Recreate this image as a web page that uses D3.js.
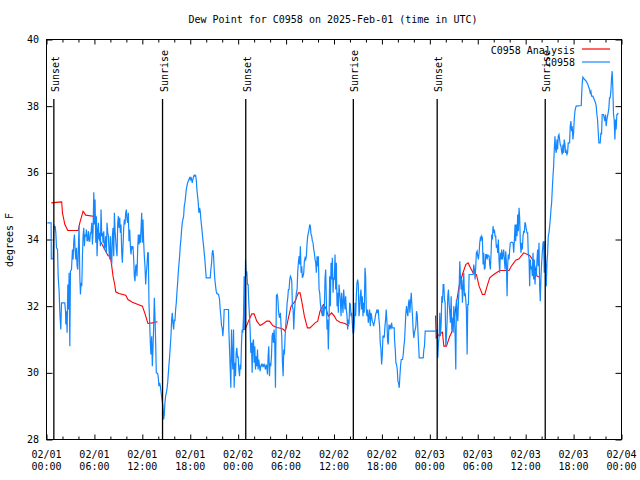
<!DOCTYPE html>
<html><head><meta charset="utf-8">
<script src="https://cdn.jsdelivr.net/npm/d3@7"></script>
<style>
body{margin:0;background:#fff}
text{font-family:"DejaVu Sans Mono","Liberation Mono",monospace;font-size:10px;fill:#000}
</style>
</head><body>
<svg id="chart" width="640" height="480"></svg>
<script>
const title = "Dew Point for C0958 on 2025-Feb-01 (time in UTC)";
const yLabel = "degrees F";
const yTicks = [28, 30, 32, 34, 36, 38, 40];
const xTickHours = [0, 6, 12, 18, 24, 30, 36, 42, 48, 54, 60, 66, 72];
const xTickDates = ["02/01","02/01","02/01","02/01","02/02","02/02","02/02","02/02","02/03","02/03","02/03","02/03","02/04"];
const xTickTimes = ["00:00","06:00","12:00","18:00","00:00","06:00","12:00","18:00","00:00","06:00","12:00","18:00","00:00"];
const sunLabels = ["Sunset","Sunrise","Sunset","Sunrise","Sunset","Sunrise"];
const sunHours = [0.92, 14.53, 24.95, 38.42, 48.92, 62.45];
const seriesNames = ["C0958 Analysis", "C0958"];

// hours since 2025-02-01 00:00 UTC, dew point (F)
const analysisNight1 = [[0.6,35.1],[1.5,35.12],[1.9,35.13],[2.0,34.8],[2.3,34.45],[2.67,34.27],[3.96,34.27],[4.17,34.5],[4.58,34.85],[4.92,34.73],[5.83,34.7],[6.17,34.55],[6.33,34.3],[6.67,33.98],[7.08,33.8],[7.3,33.7],[7.7,33.52],[8.0,33.48],[8.17,33.2],[8.33,32.9],[8.54,32.65],[8.67,32.43],[9.08,32.38],[9.92,32.33],[10.2,32.2],[10.75,32.12],[11.46,32.05],[12.0,32.0],[12.3,31.8],[12.7,31.48],[13.25,31.5],[13.9,31.53]];
const analysisNight2 = [[24.67,32.0],[24.7,31.3],[24.88,31.3],[25.29,31.55],[25.71,31.77],[26.0,31.77],[26.33,31.55],[26.75,31.42],[27.17,31.48],[27.58,31.55],[27.92,31.55],[28.33,31.42],[28.83,31.36],[29.46,31.33],[29.79,31.28],[29.88,31.25],[30.08,31.4],[30.29,31.65],[30.63,32.0],[31.13,32.15],[31.54,32.4],[31.75,32.4],[31.96,32.15],[32.29,31.7],[32.67,31.35],[33.0,31.35],[33.63,31.5],[33.96,31.55],[34.25,31.85],[34.67,32.05],[34.96,31.95],[35.29,31.7],[35.71,31.8],[36.04,31.7],[36.33,31.58],[36.75,31.52],[37.38,31.48],[37.88,31.4]];
const analysisNight3 = [[48.71,31.72],[48.79,31.05],[49.17,31.15],[49.58,31.22],[49.75,30.8],[50.08,30.8],[50.5,31.1],[50.71,31.2],[51.0,31.5],[51.33,32.1],[51.67,32.6],[52.08,32.95],[52.5,33.25],[52.79,33.3],[53.08,33.15],[53.42,33.0],[53.83,32.95],[54.17,32.6],[54.58,32.35],[54.88,32.35],[55.17,32.6],[55.5,32.85],[56.0,32.95],[56.75,33.07],[57.92,33.07],[58.2,33.2],[58.75,33.38],[59.17,33.42],[59.75,33.6],[60.5,33.52],[61.0,33.35],[61.42,32.9],[61.75,32.87]];

const observed = [[0.1,34.5],[0.58,34.5],[0.6,33.42],[0.83,33.42],[0.92,34.45],[1.0,34.3],[1.08,34.4],[1.17,34.2],[1.25,33.75],[1.38,33.7],[1.46,32.9],[1.58,32.45],[1.67,31.8],[1.79,31.3],[1.88,32.1],[2.29,32.1],[2.38,31.85],[2.42,31.45],[2.5,31.85],[2.58,31.2],[2.67,32.65],[2.75,31.9],[2.83,33.0],[2.92,30.8],[3.0,33.05],[3.13,33.1],[3.25,33.7],[3.33,33.4],[3.42,33.95],[3.5,34.15],[3.58,33.7],[3.67,33.4],[3.75,33.75],[3.83,33.2],[3.92,33.1],[4.0,33.85],[4.08,34.4],[4.17,32.9],[4.25,32.35],[4.33,32.7],[4.42,32.6],[4.5,33.5],[4.58,34.1],[4.67,34.35],[4.75,33.8],[4.83,34.15],[4.92,34.1],[5.0,34.3],[5.08,33.95],[5.17,34.0],[5.25,34.25],[5.33,33.95],[5.42,33.95],[5.5,34.2],[5.58,34.2],[5.67,34.5],[5.75,33.85],[5.83,34.25],[5.92,35.42],[6.0,34.45],[6.08,35.2],[6.17,33.9],[6.25,34.7],[6.33,33.5],[6.42,34.1],[6.5,34.5],[6.58,34.0],[6.67,34.2],[6.75,33.8],[6.83,34.9],[6.92,34.1],[7.0,34.2],[7.08,33.9],[7.17,34.25],[7.25,33.7],[7.33,33.8],[7.42,34.1],[7.5,33.6],[7.58,34.5],[7.67,34.2],[7.75,34.1],[7.83,33.65],[7.92,33.4],[8.0,34.1],[8.08,33.55],[8.17,33.25],[8.25,34.1],[8.33,34.35],[8.42,33.5],[8.5,34.8],[8.58,34.3],[8.67,33.95],[8.75,33.7],[8.83,33.5],[8.92,34.5],[9.0,34.7],[9.08,34.35],[9.17,34.65],[9.25,34.2],[9.33,34.45],[9.42,33.6],[9.5,33.3],[9.58,33.8],[9.67,34.35],[9.75,34.6],[9.83,34.45],[9.92,34.8],[10.0,34.9],[10.08,34.6],[10.17,34.5],[10.25,34.8],[10.33,33.95],[10.42,34.3],[10.5,33.8],[10.58,33.55],[10.67,33.8],[10.75,33.75],[10.83,33.8],[10.92,33.4],[11.0,32.9],[11.08,32.75],[11.17,33.2],[11.25,33.25],[11.33,32.9],[11.42,33.75],[11.5,34.15],[11.58,33.85],[11.67,34.15],[11.75,33.9],[11.83,34.3],[11.92,34.8],[12.0,33.9],[12.08,34.6],[12.17,33.9],[12.25,33.5],[12.33,33.2],[12.42,32.65],[12.5,33.0],[12.58,33.2],[12.67,33.6],[12.75,33.6],[12.83,32.1],[12.92,31.5],[13.0,30.9],[13.08,30.55],[13.17,31.1],[13.25,30.2],[13.33,30.7],[13.42,31.4],[13.5,32.25],[13.58,31.7],[13.67,30.9],[13.75,30.0],[13.92,29.98],[14.0,29.85],[14.08,29.6],[14.17,29.7],
[14.25,29.6],[14.46,29.2],[14.58,29.0],[14.67,28.6],[14.75,28.75],[14.83,29.1],[14.92,29.3],[15.08,29.5],[15.17,29.7],[15.29,30.1],[15.42,30.5],[15.5,30.8],[15.58,31.1],[15.67,31.6],[15.75,31.8],[15.83,31.5],[15.92,31.3],[16.0,31.6],[16.08,31.55],[16.17,31.9],[16.25,32.1],[16.33,32.4],[16.42,32.7],[16.5,33.0],[16.58,33.25],[16.67,33.5],[16.75,33.8],[16.83,34.0],[16.92,34.3],[17.0,34.5],[17.08,34.6],[17.17,34.7],[17.25,35.0],[17.33,35.1],[17.42,35.3],[17.5,35.5],[17.58,35.6],[17.67,35.7],[17.75,35.75],[17.83,35.8],[17.92,35.85],[18.0,35.8],[18.08,35.88],[18.17,35.8],[18.25,35.7],[18.33,35.8],[18.42,35.9],[18.5,35.93],[18.58,35.9],[18.67,35.92],[18.75,35.8],[18.83,35.5],[18.92,35.3],[19.0,35.1],[19.08,34.8],[19.17,34.95],[19.25,34.85],[19.33,34.6],[19.42,34.4],[19.5,34.2],[19.58,34.0],[19.67,33.8],[19.75,33.6],[19.83,33.4],[19.92,33.1],[20.0,32.85],[20.5,32.85],[20.58,33.1],[20.67,33.3],[20.75,33.6],[20.83,33.68],[20.92,33.5],[21.0,33.1],[21.08,32.8],[21.17,32.6],[21.25,32.45],[21.33,32.38],[21.54,32.35],[21.67,32.2],[21.75,31.9],[21.83,31.7],[21.92,31.4],[22.0,31.35],[22.08,31.1],[22.17,31.4],[22.25,31.9],[22.79,31.9],[22.83,31.3],[22.92,30.7],[23.0,30.15],[23.08,29.55],[23.17,31.3],[23.25,30.5],[23.33,30.1],[23.42,31.3],[23.5,29.55],[23.58,30.3],[23.67,29.9],[23.75,30.6],[23.83,30.75],[23.92,30.45],[24.0,30.5],[24.08,30.1],[24.17,29.9],[24.25,30.25],[24.33,30.1],[24.42,30.9],[24.5,31.3],[24.58,31.2],[24.67,31.7],[24.75,32.9],[24.83,31.3],[24.92,33.4],[25.0,32.9],[25.08,33.05],[25.17,32.65],[25.25,32.65],[25.33,32.1],[25.42,31.7],[25.5,31.3],[25.58,30.6],[25.67,30.9],[25.75,30.0],[25.83,30.9],[25.92,31.0],[26.0,30.3],[26.08,30.8],[26.17,30.1],[26.25,30.5],[26.33,30.2],[26.42,30.7],[26.5,30.1],[26.58,30.4],[26.67,30.2],[26.75,30.05],[26.83,30.2],[26.92,30.25],[27.0,30.2],[27.08,30.25],[27.17,30.2],[27.25,30.25],[27.33,30.2],[27.42,30.1],[27.5,30.25],[27.58,30.2],[27.67,29.95],[27.75,30.5],[27.83,30.8],[27.92,29.9],[28.0,30.3],[28.08,30.2],[28.17,30.5],[28.25,31.1],[28.33,31.2],[28.42,30.9],[28.5,31.3],[28.58,30.9],[28.67,29.55],
[28.71,30.6],[28.79,32.32],[28.88,32.35],[28.96,32.25],[29.04,31.9],[29.13,31.7],[29.21,31.65],[29.29,31.8],[29.38,31.35],[29.46,31.1],[29.54,30.35],[29.63,29.9],[29.71,30.7],[29.79,30.55],[29.88,31.1],[29.96,31.45],[30.04,31.7],[30.13,32.1],[30.21,32.25],[30.29,32.5],[30.38,32.5],[30.46,32.8],[30.54,32.9],[30.63,32.85],[30.71,32.75],[30.79,32.0],[30.88,31.9],[30.96,31.3],[31.04,31.8],[31.13,32.1],[31.21,32.2],[31.29,32.4],[31.38,32.5],[31.46,33.05],[31.54,33.3],[31.63,33.5],[31.71,33.25],[31.79,33.8],[31.88,33.0],[31.96,33.2],[32.04,32.85],[32.13,32.9],[32.21,33.0],[32.29,33.35],[32.38,33.45],[32.46,33.4],[32.54,33.5],[32.63,33.9],[32.71,34.1],[32.79,34.2],[32.88,34.3],[32.96,34.45],[33.04,34.4],[33.13,34.15],[33.21,34.1],[33.29,33.95],[33.38,33.9],[33.46,33.7],[33.54,33.6],[33.63,33.4],[33.71,33.3],[33.79,33.0],[33.88,33.5],[33.96,33.2],[34.04,33.5],[34.13,32.5],[34.21,32.4],[34.29,32.1],[34.38,31.9],[34.46,31.8],[34.54,31.7],[34.63,32.0],[34.71,31.7],[34.79,31.9],[34.88,32.85],[34.96,33.1],[35.04,32.2],[35.13,31.3],[35.21,31.6],[35.29,30.7],[35.38,31.6],[35.46,32.9],[35.54,32.0],[35.63,33.3],[35.71,32.8],[35.79,33.45],[35.88,32.4],[35.96,32.85],[36.04,32.8],[36.13,33.55],[36.21,32.5],[36.29,33.3],[36.38,32.0],[36.46,32.4],[36.54,31.8],[36.63,32.65],[36.71,32.4],[36.79,32.2],[36.88,31.7],[36.96,32.4],[37.04,32.1],[37.13,31.8],[37.21,32.5],[37.29,32.2],[37.38,31.9],[37.46,32.3],[37.54,31.9],[37.63,31.7],[37.71,31.3],[37.79,31.6],[37.88,31.45],[37.96,32.1],[38.04,32.05],[38.13,31.7],[38.21,31.8],[38.29,31.5],[38.38,31.2],[38.46,31.2],[38.54,31.45],[38.63,32.1],[38.71,31.7],[38.79,32.3],[38.88,32.7],[38.96,32.8],[39.04,32.65],[39.13,31.7],[39.21,31.9],[39.29,32.3],[39.38,32.5],[39.46,31.9],[39.54,32.3],[39.63,31.7],[39.71,32.1],[39.79,31.8],[39.88,33.15],[39.96,32.9],[40.04,31.9],[40.13,31.7],[40.21,31.9],[40.29,31.5],[40.38,31.7],[40.46,31.9],[40.54,31.4],[40.63,31.8],[40.71,31.7],[40.79,31.55],[40.88,31.5],[40.96,31.4],[41.04,31.5],[41.13,31.6],[41.21,31.75],[41.29,31.8],[41.38,31.9],[41.46,31.8],[41.54,31.9],[41.63,31.6],[41.71,31.4],[41.79,30.9],[41.88,30.7],[41.96,30.25],[42.04,30.5],[42.13,31.1],[42.21,31.1],[42.29,31.05],[42.38,31.4],[42.46,31.6],[42.54,31.9],[42.63,31.5],[42.71,30.95],[42.79,30.85],[42.88,31.45],[42.96,31.3],[43.04,31.4],[43.13,31.35],[43.21,31.5],[43.29,31.35],[43.42,31.35],[43.54,31.35],
[43.58,31.0],[43.67,30.7],[43.75,30.3],[43.83,30.25],[43.92,30.1],[44.0,29.75],[44.08,29.7],[44.17,29.55],[44.25,29.9],[44.33,30.2],[44.42,30.4],[44.58,30.4],[44.67,30.55],[44.75,30.8],[44.83,30.95],[44.92,31.4],[45.0,31.8],[45.08,32.0],[45.17,31.8],[45.25,31.7],[45.33,32.1],[45.42,32.2],[45.5,31.8],[45.58,32.1],[45.67,32.4],[45.75,32.05],[45.83,31.7],[45.92,31.25],[46.0,31.05],[46.08,31.2],[46.17,31.3],[46.25,31.4],[46.33,31.85],[46.42,31.75],[46.5,31.3],[46.58,30.9],[46.67,30.45],[47.17,30.45],[47.25,30.7],[47.33,30.8],[47.42,31.25],[48.83,31.25],[48.92,31.3],[49.0,30.45],[49.08,30.9],[49.17,31.1],[49.25,31.8],[49.33,31.1],[49.42,31.5],[49.5,32.3],[49.58,32.1],[49.67,32.65],[49.75,32.65],[49.83,32.2],[49.92,32.1],[50.0,30.8],[50.08,31.1],[50.17,31.6],[50.25,32.3],[50.33,32.5],[50.42,32.05],[50.5,31.8],[50.58,31.5],[50.67,32.3],[50.75,31.3],[50.83,31.65],[50.92,31.2],[51.0,32.0],[51.08,31.75],[51.17,31.05],[51.25,30.1],[51.33,32.2],[51.42,31.9],[51.5,31.55],[51.58,32.1],[51.67,32.55],[51.75,33.35],[51.83,32.9],[51.92,32.5],[52.0,32.8],[52.08,32.1],[52.17,32.6],[52.25,33.0],[52.33,32.3],[52.42,32.4],[52.5,32.2],[52.58,31.9],[52.67,30.55],[52.75,32.05],[52.83,32.05],[52.92,32.95],[53.42,32.95],[53.5,33.25],[53.58,33.1],[53.67,32.8],[53.75,33.2],[53.83,33.6],[53.92,33.65],[54.0,33.5],[54.08,33.4],[54.17,33.6],[54.25,33.9],[54.33,34.05],[54.42,34.0],[54.5,34.1],[54.58,34.05],[54.67,33.25],[54.75,33.6],[54.83,33.1],[54.92,33.15],[55.0,33.55],[55.08,33.55],[55.17,33.4],[55.25,33.55],[55.33,33.5],[55.42,33.5],[55.5,33.25],[55.58,33.1],[55.67,33.6],[55.75,34.15],[55.83,34.0],[55.92,34.4],[56.0,34.2],[56.08,34.3],[56.17,34.1],[56.25,34.1],[56.33,33.75],[56.42,33.85],[56.5,33.6],[56.58,34.0],[56.67,33.35],[56.75,33.0],[56.83,33.6],[56.92,33.4],[57.0,33.7],[57.08,33.4],[57.17,33.55],[57.25,33.7],[57.33,33.4],[57.42,33.1],[57.5,33.65],[57.58,33.35],[57.67,32.3],[57.75,33.25],[57.83,33.55],[57.92,33.4],
[58.0,33.7],[58.08,33.9],[58.25,33.92],[58.42,33.9],[58.5,33.6],[58.58,33.95],[58.67,34.45],[58.75,33.95],[58.83,34.45],[58.92,34.1],[59.0,34.75],[59.08,34.25],[59.17,34.95],[59.25,34.65],[59.33,33.9],[59.42,33.6],[59.5,33.9],[59.58,33.7],[59.67,34.1],[59.75,34.25],[59.83,34.2],[59.92,34.52],[60.0,34.45],[60.08,34.3],[60.17,34.2],[60.25,34.2],[60.33,33.55],[60.42,33.45],[60.5,32.6],[60.58,33.4],[60.67,33.1],[60.75,33.2],[60.83,32.9],[60.92,33.6],[61.0,32.8],[61.08,33.4],[61.17,32.65],[61.25,33.05],[61.33,32.9],[61.42,33.4],[61.5,33.7],[61.58,33.2],[61.67,33.9],[61.75,32.6],[61.83,32.15],[61.92,32.9],[62.0,33.3],[62.08,33.6],[62.17,33.9],[62.25,33.95],[62.33,33.0],[62.42,33.95],[62.5,33.35],[62.58,32.6],[62.67,33.3],[62.75,33.6],[62.83,34.1],[62.92,34.2],
[63.08,34.6],[63.17,34.9],[63.25,35.1],[63.33,35.5],[63.42,35.9],[63.5,36.2],[63.58,36.7],[63.67,37.1],[63.75,36.7],[63.83,36.6],[63.92,37.0],[64.0,36.7],[64.08,37.1],[64.17,37.15],[64.25,37.0],[64.33,36.85],[64.42,36.8],[64.5,36.65],[64.58,36.55],[64.67,36.85],[64.75,36.6],[64.83,37.0],[64.92,36.85],[65.0,36.6],[65.08,36.65],[65.17,36.55],[65.25,36.6],[65.33,36.9],[65.5,36.9],[65.58,37.4],[65.67,37.55],[65.75,37.25],[65.83,37.4],[65.92,37.0],[66.0,37.2],[66.08,37.6],[66.17,37.85],[66.25,37.95],[66.33,38.0],[66.96,38.02],[67.0,38.3],[67.08,38.7],[67.17,38.87],[67.38,38.8],[67.58,38.75],[67.79,38.65],[67.92,38.55],[68.0,38.5],[68.08,38.4],[68.17,38.45],[68.25,38.3],[68.42,38.3],[68.5,38.25],[68.58,38.2],[68.67,38.15],[68.75,38.1],[68.83,38.0],[68.92,37.75],[69.0,37.6],[69.08,37.25],[69.17,36.9],[69.33,36.9],[69.42,37.2],[69.5,37.15],[69.58,37.75],[69.75,37.75],[69.83,37.65],[69.92,37.55],[70.0,37.75],[70.08,37.4],[70.17,37.6],[70.25,37.7],[70.33,37.8],[70.42,37.95],[70.5,38.25],[70.58,38.25],[70.67,38.45],[70.75,38.82],[70.83,39.05],[70.92,38.5],[71.0,37.75],[71.08,37.6],[71.17,37.0],[71.25,37.6],[71.33,37.3],[71.42,37.75],[71.5,37.75],[71.58,37.8]];

const svg = d3.select("#chart");
const pL = 46.5, pR = 621.5, pT = 39.5, pB = 439.5;
const x = d3.scaleLinear().domain([0, 72]).range([pL, pR]);
const y = d3.scaleLinear().domain([28, 40]).range([pB, pT]);
const RED = "#ff0000", BLUE = "#1487ff";

// title
svg.append("text").attr("x", 333).attr("y", 23).attr("text-anchor", "middle").text(title);

// y label
svg.append("text").attr("transform", "translate(13,240) rotate(-90)")
  .attr("text-anchor", "middle").text(yLabel);

// axes (ticks point inward)
const minorHours = d3.range(0, 73, 2).filter(h => h % 6 !== 0);
function xTicks(g, size, vals, dir) {
  g.call(dir(x).tickValues(vals).tickSize(-size).tickFormat(""))
   .call(s => s.select(".domain").remove())
   .selectAll("line").attr("stroke", "#000");
}
svg.append("g").attr("transform", `translate(0,${pB})`).call(g => xTicks(g, 5, xTickHours, d3.axisBottom));
svg.append("g").attr("transform", `translate(0,${pB})`).call(g => xTicks(g, 3, minorHours, d3.axisBottom));
svg.append("g").attr("transform", `translate(0,${pT})`).call(g => xTicks(g, 5, xTickHours, d3.axisTop));
svg.append("g").attr("transform", `translate(0,${pT})`).call(g => xTicks(g, 3, minorHours, d3.axisTop));
svg.append("g").attr("transform", `translate(${pL},0)`)
  .call(d3.axisLeft(y).tickValues(yTicks).tickSize(-6).tickFormat(""))
  .call(s => s.select(".domain").remove()).selectAll("line").attr("stroke", "#000");
svg.append("g").attr("transform", `translate(${pR},0)`)
  .call(d3.axisRight(y).tickValues(yTicks).tickSize(-6).tickFormat(""))
  .call(s => s.select(".domain").remove()).selectAll("line").attr("stroke", "#000");

// tick labels
svg.append("g").selectAll("text").data(yTicks).join("text")
  .attr("x", 39).attr("y", d => y(d) + 3.5).attr("text-anchor", "end").text(d => d);
const xl = svg.append("g").selectAll("text").data(xTickHours).join("text")
  .attr("text-anchor", "middle");
xl.append("tspan").attr("x", d => x(d)).attr("y", 458).text((d, i) => xTickDates[i]);
xl.append("tspan").attr("x", d => x(d)).attr("y", 470).text((d, i) => xTickTimes[i]);

// series
const line = d3.line().x(d => x(d[0])).y(d => y(d[1]));
svg.append("clipPath").attr("id", "pc").append("rect")
  .attr("x", pL).attr("y", pT).attr("width", pR - pL).attr("height", pB - pT);
const plot = svg.append("g").attr("clip-path", "url(#pc)");
[analysisNight1, analysisNight2, analysisNight3].forEach(seg => {
  plot.append("path").datum(seg).attr("d", line).attr("fill", "none")
    .attr("stroke", RED).attr("stroke-width", 1.1);
});
plot.append("path").datum(observed).attr("d", line).attr("fill", "none")
  .attr("stroke", BLUE).attr("stroke-width", 1.2);

// sunrise / sunset markers
sunHours.forEach((h, i) => {
  svg.append("line").attr("x1", x(h)).attr("x2", x(h)).attr("y1", 99).attr("y2", pB)
    .attr("stroke", "#000").attr("stroke-width", 1.3);
  svg.append("text").attr("transform", `translate(${x(h) + 5},92) rotate(-90)`)
    .attr("text-anchor", "start").text(sunLabels[i]);
});

// legend
[RED, BLUE].forEach((c, i) => {
  svg.append("text").attr("x", 575).attr("y", 53.5 + i * 12.5).attr("text-anchor", "end").text(seriesNames[i]);
  svg.append("line").attr("x1", 582).attr("x2", 610).attr("y1", 49 + i * 13).attr("y2", 49 + i * 13)
    .attr("stroke", c).attr("stroke-width", 1.2);
});

// border
svg.append("rect").attr("x", pL).attr("y", pT).attr("width", pR - pL).attr("height", pB - pT)
  .attr("fill", "none").attr("stroke", "#000").attr("stroke-width", 1);
</script>
</body></html>
